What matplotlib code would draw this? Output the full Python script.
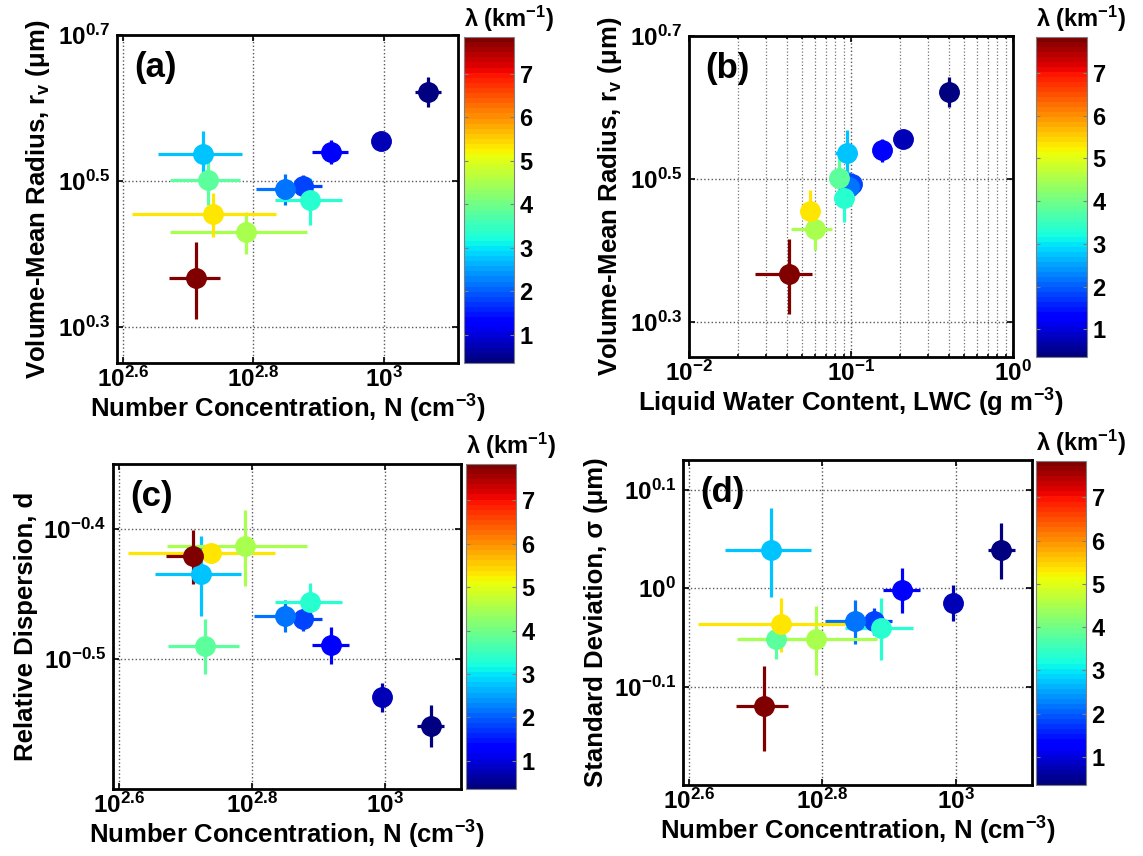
import numpy as np
import matplotlib.pyplot as plt
from matplotlib import colors, cm, ticker

plt.rcParams['font.family'] = ['Liberation Sans', 'DejaVu Sans']
plt.rcParams['font.weight'] = 'bold'
plt.rcParams['mathtext.fontset'] = 'custom'
plt.rcParams['mathtext.rm'] = 'Liberation Sans:bold'
plt.rcParams['mathtext.bf'] = 'Liberation Sans:bold'
plt.rcParams['mathtext.default'] = 'rm'

# extinction coefficient of each cloud segment (km^-1)
lam = [0.35, 0.71, 1.2, 1.85, 2.2, 2.78, 3.38, 3.78, 4.47, 5.35, 7.84]

# number concentration (cm^-3) and its spread
N = [1170, 990, 830, 753, 707, 529, 772, 537, 616, 547, 515]
dN = [55, 15, 53, 50, 71, 78, 90, 66, 146, 136, 46]

# volume-mean radius (um)
rv = [4.19, 3.59, 3.467, 3.11, 3.08, 3.44, 2.974, 3.17, 2.69, 2.846, 2.328]
drv = [0.2, 0.05, 0.13, 0.11, 0.15, 0.26, 0.22, 0.24, 0.177, 0.2, 0.28]

# liquid water content (g m^-3)
lwc = [0.401, 0.21, 0.156, 0.102, 0.097, 0.0945, 0.090, 0.0848, 0.0596, 0.0555, 0.0415]
dlwc = [0.01, 0.008, 0.006, 0.006, 0.006, 0.015, 0.012, 0.008, 0.017, 0.004, 0.016]

# relative dispersion
disp = [0.2809, 0.2954, 0.324, 0.3394, 0.3414, 0.3673, 0.3496, 0.3237, 0.386, 0.3815, 0.3793]
ddisp = [0.0105, 0.0075, 0.0107, 0.007, 0.0094, 0.026, 0.0122, 0.016, 0.026, 0.0065, 0.018]

# standard deviation (um)
sig = [1.093, 0.966, 0.996, 0.925, 0.925, 1.093, 0.911, 0.888, 0.888, 0.920, 0.759]
dsig = [0.072, 0.04, 0.052, 0.03, 0.047, 0.114, 0.066, 0.04, 0.072, 0.058, 0.075]

W, H = 1143, 856
fig = plt.figure(figsize=(W / 100, H / 100), dpi=100)

cmap = plt.get_cmap('jet', 64)
norm = colors.Normalize(vmin=min(lam), vmax=max(lam))


def box(l, t, r, b):
    return [l / W, 1 - b / H, (r - l) / W, (b - t) / H]


def exp_labels(vals):
    out = []
    for v in vals:
        s = ('%g' % v)
        out.append('$10^{%s}$' % s.replace('-', '\u2212'))
    return out


def panel(axpos, cbpos, x, xe, y, ye, xlim, ylim, xt, yt, tag, xlabel, ylabel,
          minor_x=False):
    ax = fig.add_axes(box(*axpos))
    ax.set_xscale('log')
    ax.set_yscale('log')
    for i in range(len(lam)):
        c = cmap(norm(lam[i]))
        ax.errorbar(x[i], y[i], xerr=xe[i], yerr=ye[i], fmt='o', color=c,
                    mec=c, ms=14, elinewidth=2.3, capsize=0)
    ax.set_xlim(xlim)
    ax.set_ylim(ylim)
    ax.xaxis.set_major_locator(ticker.FixedLocator([10 ** v for v in xt]))
    ax.yaxis.set_major_locator(ticker.FixedLocator([10 ** v for v in yt]))
    ax.xaxis.set_major_formatter(ticker.FixedFormatter(exp_labels(xt)))
    ax.yaxis.set_major_formatter(ticker.FixedFormatter(exp_labels(yt)))
    ax.yaxis.set_minor_locator(ticker.NullLocator())
    if minor_x:
        ax.xaxis.set_minor_locator(ticker.LogLocator(base=10, subs=np.arange(2, 10)))
        ax.xaxis.set_minor_formatter(ticker.NullFormatter())
        ax.grid(True, which='minor', axis='x', ls=':', color='0.45', lw=0.9)
    else:
        ax.xaxis.set_minor_locator(ticker.NullLocator())
    ax.grid(True, which='major', ls=':', color='0.35', lw=1.0)
    ax.tick_params(which='both', direction='in', top=True, right=True,
                   labelsize=17.5, length=4, width=1.2, pad=5)
    ax.tick_params(axis='x', pad=3)
    ax.tick_params(which='minor', length=2.5)
    for s in ax.spines.values():
        s.set_linewidth(2)
    ax.set_xlabel(xlabel, fontsize=18.5, fontweight='bold', labelpad=0)
    ax.set_ylabel(ylabel, fontsize=18.5, fontweight='bold', labelpad=4)
    ax.text(0.05, 0.95, tag, transform=ax.transAxes, fontsize=25,
            fontweight='bold', ha='left', va='top')

    cax = fig.add_axes(box(*cbpos))
    cb = fig.colorbar(cm.ScalarMappable(norm=norm, cmap=cmap), cax=cax,
                      ticks=range(1, 8))
    cb.outline.set_edgecolor('0.5')
    cb.outline.set_linewidth(0.8)
    cax.tick_params(labelsize=17, direction='in', length=3, color='0.5',
                    left=True, right=True, pad=4)
    l, t, r, b = cbpos
    fig.text(l / W, 1 - (t - 3) / H, '\u03bb (km$^{\u22121}$)', fontsize=17,
             fontweight='bold', ha='left', va='bottom')
    return ax


nlim = (390, 1300)
nt = [2.6, 2.8, 3]
nlabel = 'Number Concentration, N (cm$^{\u22123}$)'
rlabel = 'Volume-Mean Radius, r$_v$ (\u03bcm)'

panel((117, 35, 458, 363), (464, 37, 514, 363), N, dN, rv, drv,
      nlim, (1.78, 5.012), nt, [0.3, 0.5, 0.7], '(a)', nlabel, rlabel)

panel((689, 36, 1013, 357), (1036, 37, 1087, 357), lwc, dlwc, rv, drv,
      (0.01, 1), (1.78, 5.012), [-2, -1, 0], [0.3, 0.5, 0.7], '(b)',
      'Liquid Water Content, LWC (g m$^{\u22123}$)', rlabel, minor_x=True)

panel((113, 464, 461, 789), (466, 464, 516, 789), N, dN, disp, ddisp,
      nlim, (0.2512, 0.4467), nt, [-0.6, -0.5, -0.4], '(c)', nlabel,
      'Relative Dispersion, d')

panel((683, 460, 1032, 785), (1036, 461, 1086, 785), N, dN, sig, dsig,
      nlim, (0.631, 1.349), nt, [-0.1, 0, 0.1], '(d)', nlabel,
      'Standard Deviation, \u03c3 (\u03bcm)')

fig.savefig('out.png', dpi=100)
